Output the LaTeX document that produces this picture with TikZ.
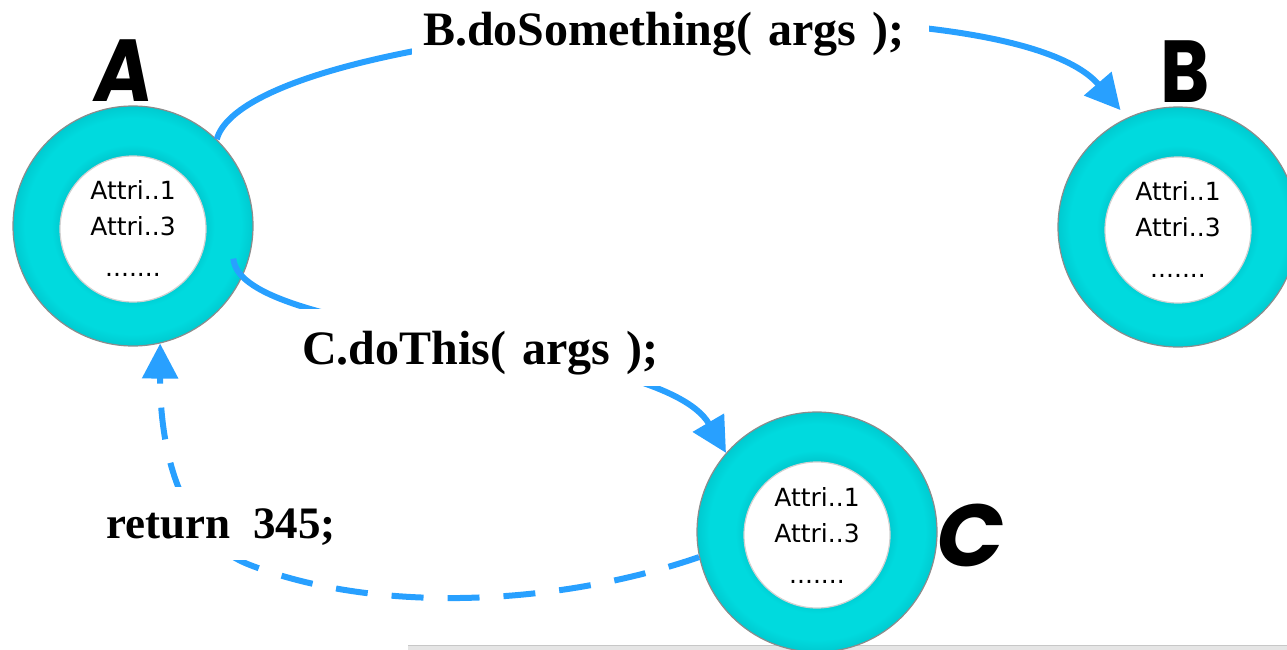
\documentclass[tikz,border=0pt]{standalone}
\usepackage{fontspec}
\setmainfont{Liberation Serif}
\setsansfont{DejaVu Sans}
\newfontfamily\handfont{Poppins}
\usetikzlibrary{arrows.meta,calc}

\definecolor{ringlight}{RGB}{0,218,222}
\definecolor{ringdark}{RGB}{0,202,208}
\definecolor{flow}{RGB}{40,160,255}
\definecolor{rimgray}{RGB}{140,140,140}

% turquoise ring: a little darker towards both rims
% (the path's bounding box maps onto the central 50bp of the shading)
\pgfdeclareradialshading{ringshade}{\pgfpoint{0bp}{0bp}}{%
  color(0bp)=(ringdark); color(15bp)=(ringdark); color(17bp)=(ringlight);
  color(22.5bp)=(ringlight); color(25bp)=(ringdark); color(50bp)=(ringdark)}

\begin{document}
\begin{tikzpicture}[x=1pt,y=-1pt,
  ring/.style={circle, minimum size=240pt, inner sep=0pt, shading=ringshade,
    draw=rimgray, line width=1.2pt},
  core/.style={circle, minimum size=146pt, inner sep=0pt, fill=white,
    draw=black!18, line width=1.2pt, align=center,
    font=\sffamily\fontsize{25}{36}\selectfont},
  tag/.style={font=\handfont\bfseries\fontsize{88}{88}\selectfont, inner sep=0pt},
  callout/.style={fill=white, inner xsep=11pt, inner ysep=0pt, align=left,
    anchor=base west, font=\bfseries\fontsize{48}{58}\selectfont},
  flowline/.style={draw=flow, line width=6pt,
    -{Triangle[length=35pt,width=35pt]}},
]
\useasboundingbox (0,0) rectangle (1287,650);

% window edge along the bottom
\fill[black!10] (408,645) rectangle (1287,650);
\draw[black!22, line width=1pt] (408,645.5) -- (1287,645.5);

% objects
\node[ring] (A) at (133,226) {};
\node[core] (Ain) at ([yshift=-3pt]A.center) {Attri..1\\Attri..3\\[5pt].......};
\node[ring] (B) at (1178,227) {};
\node[core] (Bin) at ([yshift=-3pt]B.center) {Attri..1\\Attri..3\\[5pt].......};
\node[ring] (C) at (817,532) {};
\node[core] (Cin) at ([yshift=-3pt]C.center) {Attri..1\\Attri..3\\[5pt].......};

\node[tag, xslant=0.12, xscale=0.9] (tagA) at (124,71) {A};
\node[tag, xscale=0.85] (tagB) at (1185,72) {B};
\node[tag, xslant=0.18] (tagC) at (972,535) {C};

% messages
\draw[flowline, shorten >=10pt] (A.46) .. controls (250,20) and (1000,-30) .. (B.115);
\draw[flowline] ($(A.center)!0.875!(A.-18)$) .. controls (240,340) and (660,340) .. (C.139);
\draw[flowline, dash pattern=on 32pt off 24pt]
  (C.192) .. controls (560,605) and (380,615) .. (250,565)
          .. controls (185,540) and (160,460) .. (A.-77);

% message texts
\node[callout, text width=495pt, text height=46pt, text depth=19pt] (msgB) at (412,46) {B.doSomething( args );};
\node[callout, text width=347pt, text height=56pt, text depth=21pt] (msgC) at (291,364.5) {\mbox{C.doThis( args );}};
\node[callout, text width=240pt, text height=51pt, text depth=22pt,
  font=\bfseries\fontsize{45}{54}\selectfont] (msgR) at (95,538) {return\hspace{23pt}345;};
\end{tikzpicture}
\end{document}
